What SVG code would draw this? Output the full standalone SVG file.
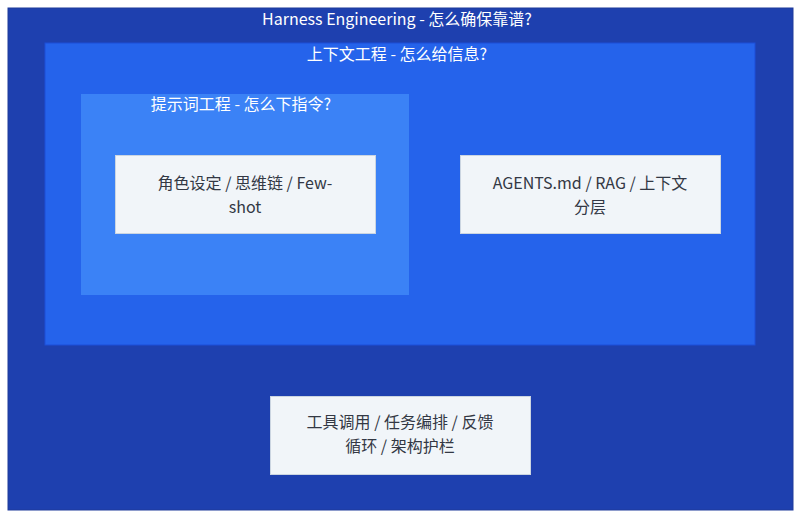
<svg xmlns="http://www.w3.org/2000/svg" width="801" height="517" viewBox="0 0 801 517">
<style>
.t{font-family:"Noto Sans CJK SC","Noto Sans",sans-serif;font-size:16px;fill:#ffffff;text-anchor:middle}
.n rect{fill:#f1f5f9;stroke:#cbd5e1;stroke-width:1}
.n text{font-family:"Noto Sans CJK SC","Noto Sans",sans-serif;font-size:16px;fill:#333844;text-anchor:middle}
</style>
<rect width="801" height="517" fill="#ffffff"/>
<g id="harness">
<rect x="8" y="8" width="785" height="502" fill="#1e40af" stroke="#1e3a9a" stroke-width="1"/>
<text class="t" x="397" y="25">Harness Engineering - 怎么确保靠谱?</text>
</g>
<g id="context">
<rect x="45" y="43" width="710" height="302" fill="#2563eb" stroke="#1d4ed8" stroke-width="1"/>
<text class="t" x="397" y="60">上下文工程 - 怎么给信息?</text>
</g>
<g id="prompt">
<rect x="81" y="94" width="328" height="201" fill="#3b82f6"/>
<text class="t" x="241" y="110">提示词工程 - 怎么下指令?</text>
</g>
<g id="n1" class="n">
<rect x="115.5" y="155.5" width="260" height="78"/>
<text x="245" y="189">角色设定 / 思维链 / Few-</text>
<text x="245" y="213">shot</text>
</g>
<g id="n2" class="n">
<rect x="460.5" y="155.5" width="260" height="78"/>
<text x="590" y="189">AGENTS.md / RAG / 上下文</text>
<text x="590" y="213">分层</text>
</g>
<g id="n3" class="n">
<rect x="270.5" y="396.5" width="260" height="78"/>
<text x="400" y="428">工具调用 / 任务编排 / 反馈</text>
<text x="400" y="452">循环 / 架构护栏</text>
</g>
<g id="connectors"></g>
</svg>
